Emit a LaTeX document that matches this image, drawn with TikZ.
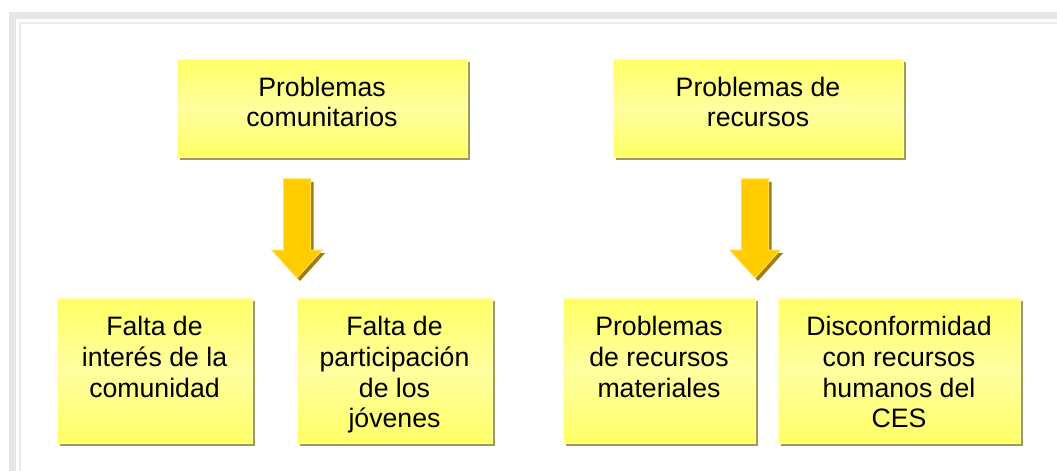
\documentclass[tikz,border=0pt]{standalone}
\usepackage{fontspec}
\setmainfont{Liberation Sans}
\usetikzlibrary{positioning, shadows, shapes.arrows}

\definecolor{boxyellow}{HTML}{FFFF66}
\definecolor{boxlight}{HTML}{FFFFA0}
\definecolor{boxedge}{HTML}{FFFFB0}
\definecolor{boxshade}{HTML}{9C9A5E}
\definecolor{arrowgold}{HTML}{FFCC00}
\definecolor{arrowedge}{HTML}{FFDD55}
\definecolor{arrowshade}{HTML}{9E7E10}
\definecolor{framegrey}{HTML}{E6E6E6}
\definecolor{framelight}{HTML}{EBEBEB}

\tikzset{
  box/.style={rectangle, draw=boxedge, line width=0.75pt, inner sep=0pt,
    top color=boxyellow, bottom color=boxyellow, middle color=boxlight,
    drop shadow={shadow xshift=2.25pt, shadow yshift=-2.25pt, fill=boxshade, opacity=1}},
  lbl/.style={align=center, inner sep=0pt, font=\fontsize{20}{23}\selectfont},
  bigarrow/.style={single arrow, rotate=-90, fill=arrowgold, draw=arrowedge, line width=0.75pt,
    inner xsep=0pt, inner ysep=9.75pt, minimum width=0pt, minimum height=74.25pt,
    single arrow head extend=8.625pt, single arrow tip angle=84,
    drop shadow={shadow xshift=2.25pt, shadow yshift=-2.25pt, fill=arrowshade, opacity=1}}
}

\begin{document}
\begin{tikzpicture}[x=0.75pt, y=-0.75pt]
        \useasboundingbox (0,0) rectangle (1057,471);
        % frame
        \fill[framegrey] (9,12) rectangle (1070,480);
        \fill[white] (16,19) rectangle (1070,480);
        \draw[framelight, line width=1.5pt] (19.5,22.5) rectangle (1070,480);

        % top boxes
        \node[box, minimum width=217.5pt, minimum height=73.5pt] (comun) at (322,108) {};
        \node[box, minimum width=217.5pt, minimum height=73.5pt] (recur) at (758,108) {};
        \node[lbl, below=13.5pt of comun.north] (comuntxt) {Problemas\\comunitarios};
        \node[lbl, below=13.5pt of recur.north] (recurtxt) {Problemas de\\recursos};

        % arrows
        \node[bigarrow] (arrcomun) at (297,221) {};
        \node[bigarrow] (arrrecur) at (755,221) {};

        % bottom boxes
        \node[box, minimum width=146.25pt, minimum height=108.75pt] (interes) at (154.5,370.5) {};
        \node[box, minimum width=146.25pt, minimum height=108.75pt] (jovenes) at (394.5,370.5) {};
        \node[box, minimum width=144pt, minimum height=108.75pt] (material) at (659,370.5) {};
        \node[box, minimum width=181.5pt, minimum height=108.75pt] (humanos) at (899,370.5) {};
        \node[lbl, below=14pt of interes.north] (interestxt) {Falta de\\interés de la\\comunidad};
        \node[lbl, below=14pt of jovenes.north] (jovenestxt) {Falta de\\participación\\de los\\jóvenes};
        \node[lbl, below=14pt of material.north] (materialtxt) {Problemas\\de recursos\\materiales};
        \node[lbl, below=14pt of humanos.north] (humanostxt) {Disconformidad\\con recursos\\humanos del\\CES};
\end{tikzpicture}
\end{document}
